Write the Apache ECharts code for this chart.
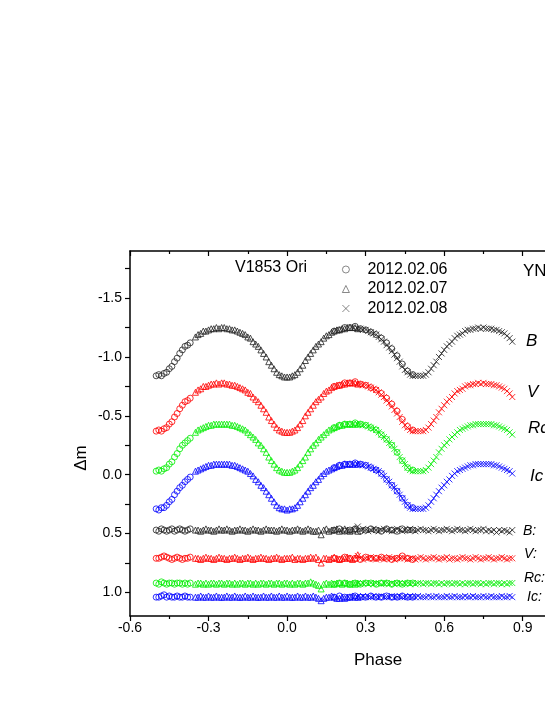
<!DOCTYPE html>
<html>
<head>
<meta charset="utf-8">
<script src="https://cdn.jsdelivr.net/npm/echarts@6/dist/echarts.min.js"></script>
<style>html,body{margin:0;padding:0;background:#fff;overflow:hidden}#c{width:575px;height:705px}</style>
</head>
<body>
<div id="c"></div>
<script>
// ---------- DATA ----------
const nightNames = ['2012.02.06', '2012.02.07', '2012.02.08'];
const bandNames = ['B', 'V', 'Rc', 'Ic'];
const xTicks = [-0.6, -0.3, 0.0, 0.3, 0.6, 0.9];
const yTicks = [-1.5, -1.0, -0.5, 0.0, 0.5, 1.0];
const yMinorTicks = [-1.75, -1.25, -0.75, -0.25, 0.25, 0.75];

const phaseN1 = [-0.50,-0.49,-0.48,-0.47,-0.46,-0.45,-0.44,-0.43,-0.42,-0.41,-0.40,-0.39,-0.38,-0.37,
  0.18,0.20,0.22,0.24,0.26,0.28,0.30,0.32,0.34,0.36,0.38,0.40,0.42,0.44,0.46,0.48];
const phaseN2 = [-0.35,-0.34,-0.33,-0.32,-0.31,-0.30,-0.29,-0.28,-0.27,-0.26,-0.25,-0.24,-0.23,-0.22,-0.21,-0.20,
  -0.19,-0.18,-0.17,-0.16,-0.15,-0.14,-0.13,-0.12,-0.11,-0.10,-0.09,-0.08,-0.07,-0.06,-0.05,-0.04,-0.03,-0.02,-0.01,
  0.00,0.01,0.02,0.03,0.04,0.05,0.06,0.07,0.08,0.09,0.10,0.11,0.12,0.13,0.14,0.15,0.16,0.17,0.18,0.19,0.20,
  0.21,0.22,0.23,0.24,0.25,0.26,0.27];
const phaseN3 = [0.27,0.28,0.29,0.30,0.31,0.32,0.33,0.34,0.35,0.36,0.37,0.38,0.39,0.40,0.41,0.42,0.43,0.44,0.45,0.46,
  0.47,0.48,0.49,0.50,0.51,0.52,0.53,0.54,0.55,0.56,0.57,0.58,0.59,0.60,0.61,0.62,0.63,0.64,0.65,0.66,0.67,0.68,
  0.69,0.70,0.71,0.72,0.73,0.74,0.75,0.76,0.77,0.78,0.79,0.80,0.81,0.82,0.83,0.84,0.85,0.86];

// light curves
const lcB_N1 = [-0.84,-0.85,-0.84,-0.86,-0.87,-0.90,-0.92,-0.96,-0.99,-1.03,-1.06,-1.09,-1.10,-1.12,
  -1.22,-1.23,-1.25,-1.25,-1.26,-1.24,-1.23,-1.21,-1.19,-1.16,-1.12,-1.07,-1.01,-0.94,-0.88,-0.85];
const lcV_N1 = [-0.37,-0.38,-0.37,-0.39,-0.40,-0.43,-0.45,-0.49,-0.52,-0.56,-0.59,-0.62,-0.63,-0.65,
  -0.75,-0.76,-0.78,-0.78,-0.79,-0.77,-0.76,-0.74,-0.72,-0.69,-0.65,-0.60,-0.54,-0.47,-0.41,-0.38];
const lcRc_N1 = [-0.03,-0.04,-0.03,-0.05,-0.06,-0.09,-0.11,-0.15,-0.18,-0.22,-0.25,-0.27,-0.29,-0.31,
  -0.40,-0.42,-0.43,-0.43,-0.44,-0.43,-0.42,-0.40,-0.38,-0.34,-0.30,-0.25,-0.19,-0.12,-0.06,-0.04];
const lcIc_N1 = [0.29,0.30,0.28,0.28,0.26,0.23,0.21,0.17,0.14,0.11,0.09,0.06,0.04,0.02,
  -0.06,-0.08,-0.09,-0.09,-0.10,-0.09,-0.08,-0.06,-0.04,-0.01,0.04,0.09,0.14,0.20,0.26,0.28];

const lcB_N2 = [-1.17,-1.19,-1.20,-1.22,-1.22,-1.23,-1.24,-1.24,-1.25,-1.24,-1.25,
  -1.25,-1.24,-1.24,-1.23,-1.23,-1.22,-1.21,-1.20,-1.19,-1.17,-1.16,-1.13,-1.11,-1.09,-1.06,-1.03,-1.00,-0.96,-0.93,-0.90,-0.87,-0.85,-0.84,-0.83,
  -0.83,
  -0.83,-0.84,-0.85,-0.87,-0.90,-0.93,-0.97,-1.00,-1.03,-1.06,-1.09,-1.11,-1.13,-1.16,-1.18,-1.19,-1.21,-1.22,-1.23,-1.23,-1.24,-1.24,-1.25,-1.25,-1.25,
  -1.25,-1.24];
const lcV_N2 = [-0.70,-0.72,-0.73,-0.75,-0.75,-0.76,-0.77,-0.77,-0.78,-0.77,-0.78,
  -0.78,-0.77,-0.77,-0.76,-0.76,-0.75,-0.74,-0.73,-0.72,-0.70,-0.69,-0.66,-0.64,-0.62,-0.59,-0.56,-0.53,-0.49,-0.46,-0.43,-0.40,-0.38,-0.37,-0.36,
  -0.36,
  -0.36,-0.37,-0.38,-0.40,-0.43,-0.46,-0.50,-0.53,-0.56,-0.59,-0.62,-0.64,-0.66,-0.69,-0.71,-0.72,-0.74,-0.75,-0.76,-0.76,-0.77,-0.77,-0.78,-0.78,-0.78,
  -0.78,-0.77];
const lcRc_N2 = [-0.36,-0.38,-0.39,-0.40,-0.41,-0.42,-0.42,-0.43,-0.43,-0.43,-0.43,
  -0.43,-0.43,-0.43,-0.42,-0.42,-0.41,-0.40,-0.39,-0.38,-0.36,-0.34,-0.32,-0.30,-0.27,-0.25,-0.22,-0.19,-0.15,-0.12,-0.09,-0.06,-0.04,-0.03,-0.02,
  -0.02,
  -0.02,-0.03,-0.04,-0.06,-0.09,-0.12,-0.15,-0.19,-0.22,-0.25,-0.27,-0.30,-0.32,-0.34,-0.36,-0.38,-0.39,-0.40,-0.41,-0.42,-0.42,-0.43,-0.43,-0.43,-0.43,
  -0.43,-0.43];
const lcIc_N2 = [-0.03,-0.04,-0.05,-0.06,-0.07,-0.08,-0.08,-0.09,-0.09,-0.09,-0.09,
  -0.09,-0.09,-0.09,-0.08,-0.08,-0.07,-0.06,-0.05,-0.04,-0.03,-0.01,0.01,0.04,0.06,0.09,0.11,0.14,0.17,0.20,0.23,0.26,0.28,0.29,0.29,
  0.30,
  0.29,0.29,0.28,0.26,0.23,0.20,0.17,0.14,0.11,0.09,0.06,0.04,0.01,-0.01,-0.03,-0.04,-0.05,-0.06,-0.07,-0.08,-0.08,-0.09,-0.09,-0.09,-0.09,
  -0.09,-0.09];

const lcB_N3 = [-1.24,-1.24,-1.23,-1.23,-1.22,-1.21,-1.20,-1.19,-1.17,-1.15,-1.13,-1.10,-1.08,-1.05,-1.02,-0.99,-0.96,-0.92,-0.89,-0.87,-0.85,-0.84,-0.84,
  -0.84,
  -0.84,-0.84,-0.85,-0.87,-0.90,-0.93,-0.96,-1.00,-1.03,-1.06,-1.09,-1.11,-1.13,-1.16,-1.18,-1.19,-1.20,-1.22,-1.23,-1.23,-1.24,-1.24,-1.25,-1.24,-1.25,
  -1.24,-1.24,-1.24,-1.23,-1.23,-1.22,-1.21,-1.20,-1.18,-1.16,-1.13];
const lcV_N3 = [-0.77,-0.77,-0.76,-0.76,-0.75,-0.74,-0.73,-0.72,-0.70,-0.68,-0.66,-0.63,-0.61,-0.58,-0.55,-0.52,-0.49,-0.45,-0.42,-0.40,-0.38,-0.37,-0.37,
  -0.37,
  -0.37,-0.37,-0.38,-0.40,-0.43,-0.46,-0.49,-0.53,-0.56,-0.59,-0.62,-0.64,-0.66,-0.69,-0.71,-0.72,-0.73,-0.75,-0.76,-0.76,-0.77,-0.77,-0.78,-0.77,-0.78,
  -0.77,-0.77,-0.77,-0.76,-0.76,-0.75,-0.74,-0.73,-0.71,-0.69,-0.66];
const lcRc_N3 = [-0.43,-0.43,-0.42,-0.42,-0.41,-0.40,-0.39,-0.38,-0.36,-0.34,-0.32,-0.30,-0.27,-0.25,-0.22,-0.19,-0.15,-0.12,-0.09,-0.06,-0.04,-0.03,-0.03,
  -0.03,
  -0.03,-0.03,-0.04,-0.06,-0.09,-0.12,-0.15,-0.19,-0.22,-0.25,-0.27,-0.30,-0.32,-0.34,-0.36,-0.38,-0.39,-0.40,-0.41,-0.42,-0.42,-0.43,-0.43,-0.43,-0.43,
  -0.43,-0.43,-0.43,-0.42,-0.42,-0.41,-0.40,-0.39,-0.38,-0.36,-0.34];
const lcIc_N3 = [-0.09,-0.09,-0.08,-0.08,-0.07,-0.06,-0.05,-0.04,-0.03,-0.01,0.01,0.04,0.06,0.09,0.11,0.14,0.17,0.20,0.23,0.26,0.28,0.29,0.29,
  0.29,
  0.29,0.29,0.28,0.26,0.23,0.20,0.17,0.14,0.11,0.09,0.06,0.04,0.01,-0.01,-0.03,-0.04,-0.05,-0.06,-0.07,-0.08,-0.08,-0.09,-0.09,-0.09,-0.09,
  -0.09,-0.09,-0.09,-0.08,-0.08,-0.07,-0.06,-0.05,-0.04,-0.03,-0.01];

// comparison - check residuals
const resB_N1 = [0.47,0.48,0.46,0.47,0.48,0.47,0.46,0.48,0.47,0.46,0.47,0.48,0.47,0.46,
  0.47,0.46,0.48,0.47,0.46,0.48,0.47,0.46,0.47,0.48,0.46,0.47,0.48,0.46,0.47,0.47];
const resV_N1 = [0.71,0.71,0.70,0.69,0.70,0.71,0.72,0.71,0.70,0.71,0.72,0.71,0.71,0.70,
  0.71,0.72,0.70,0.71,0.71,0.72,0.70,0.71,0.71,0.70,0.71,0.72,0.71,0.69,0.71,0.72];
const resRc_N1 = [0.92,0.93,0.91,0.92,0.93,0.92,0.92,0.93,0.92,0.92,0.93,0.92,0.93,0.92,
  0.93,0.92,0.92,0.93,0.92,0.93,0.92,0.92,0.93,0.92,0.92,0.93,0.92,0.93,0.92,0.92];
const resIc_N1 = [1.04,1.04,1.03,1.02,1.04,1.03,1.04,1.04,1.03,1.04,1.04,1.03,1.04,1.04,
  1.04,1.03,1.04,1.04,1.03,1.04,1.04,1.03,1.04,1.04,1.03,1.04,1.04,1.03,1.04,1.04];

const resB_N2 = [0.47,0.47,0.48,0.47,0.46,0.47,0.47,0.48,0.47,0.46,
  0.47,0.47,0.46,0.47,0.48,0.47,0.47,0.46,0.47,0.47,
  0.48,0.47,0.46,0.47,0.47,0.48,0.47,0.46,0.47,0.47,
  0.47,0.48,0.47,0.46,0.47,0.47,0.48,0.47,0.47,0.46,
  0.47,0.48,0.47,0.46,0.47,0.48,0.48,0.47,0.51,0.47,
  0.46,0.48,0.47,0.47,0.46,0.48,0.47,0.46,0.47,0.48,
  0.47,0.46,0.48];
const resV_N2 = [0.71,0.71,0.72,0.71,0.70,0.71,0.71,0.72,0.71,0.70,
  0.71,0.71,0.72,0.71,0.71,0.70,0.71,0.72,0.71,0.71,
  0.70,0.71,0.72,0.71,0.71,0.70,0.71,0.71,0.72,0.71,
  0.71,0.70,0.71,0.72,0.71,0.71,0.71,0.70,0.72,0.71,
  0.71,0.72,0.71,0.71,0.70,0.71,0.70,0.72,0.75,0.71,
  0.71,0.72,0.71,0.70,0.71,0.72,0.71,0.71,0.70,0.71,
  0.72,0.71,0.68];
const resRc_N2 = [0.93,0.92,0.92,0.93,0.92,0.93,0.92,0.92,0.93,0.92,
  0.92,0.93,0.92,0.92,0.93,0.92,0.93,0.92,0.92,0.93,
  0.92,0.92,0.93,0.92,0.93,0.92,0.92,0.93,0.92,0.92,
  0.93,0.92,0.92,0.93,0.92,0.92,0.93,0.92,0.93,0.92,
  0.92,0.93,0.92,0.92,0.91,0.92,0.93,0.94,0.97,0.93,
  0.92,0.93,0.92,0.93,0.92,0.92,0.93,0.92,0.92,0.93,
  0.92,0.93,0.92];
const resIc_N2 = [1.04,1.04,1.03,1.04,1.04,1.03,1.04,1.04,1.03,1.04,
  1.04,1.04,1.03,1.04,1.04,1.03,1.04,1.04,1.04,1.03,
  1.04,1.04,1.03,1.04,1.04,1.04,1.03,1.04,1.04,1.03,
  1.04,1.04,1.03,1.04,1.04,1.03,1.04,1.04,1.04,1.03,
  1.04,1.04,1.03,1.04,1.04,1.03,1.04,1.05,1.07,1.05,
  1.04,1.04,1.03,1.04,1.05,1.05,1.04,1.05,1.04,1.04,
  1.03,1.04,1.04];

const resB_N3 = [0.44,0.47,0.46,0.47,0.48,0.47,0.46,0.47,0.48,0.47,
  0.46,0.47,0.47,0.48,0.47,0.46,0.47,0.48,0.47,0.47,
  0.46,0.47,0.48,0.47,0.46,0.47,0.47,0.48,0.47,0.46,
  0.47,0.48,0.47,0.47,0.46,0.47,0.48,0.47,0.46,0.47,
  0.47,0.48,0.47,0.46,0.47,0.48,0.47,0.47,0.46,0.48,
  0.47,0.48,0.47,0.49,0.47,0.48,0.47,0.48,0.49,0.47];
const resV_N3 = [0.69,0.71,0.72,0.71,0.71,0.70,0.71,0.72,0.71,0.71,
  0.72,0.71,0.70,0.71,0.72,0.71,0.71,0.70,0.71,0.72,
  0.71,0.71,0.72,0.71,0.70,0.71,0.72,0.71,0.71,0.70,
  0.71,0.72,0.71,0.71,0.70,0.72,0.71,0.71,0.72,0.71,
  0.70,0.71,0.71,0.72,0.71,0.70,0.71,0.72,0.71,0.71,
  0.70,0.71,0.72,0.71,0.71,0.70,0.71,0.72,0.71,0.71];
const resRc_N3 = [0.92,0.93,0.92,0.92,0.93,0.92,0.93,0.92,0.92,0.93,
  0.92,0.92,0.93,0.92,0.93,0.92,0.92,0.93,0.92,0.92,
  0.93,0.92,0.93,0.92,0.92,0.93,0.92,0.92,0.93,0.92,
  0.92,0.93,0.92,0.93,0.92,0.92,0.93,0.92,0.92,0.93,
  0.92,0.93,0.92,0.92,0.93,0.92,0.92,0.93,0.92,0.93,
  0.92,0.92,0.93,0.92,0.92,0.93,0.92,0.93,0.92,0.92];
const resIc_N3 = [1.04,1.04,1.03,1.04,1.04,1.04,1.03,1.04,1.04,1.03,
  1.04,1.04,1.04,1.03,1.04,1.04,1.03,1.04,1.04,1.04,
  1.03,1.04,1.04,1.03,1.04,1.04,1.04,1.03,1.04,1.04,
  1.03,1.04,1.04,1.04,1.03,1.04,1.04,1.03,1.04,1.04,
  1.04,1.03,1.04,1.04,1.03,1.04,1.04,1.04,1.03,1.04,
  1.04,1.03,1.04,1.04,1.04,1.03,1.04,1.04,1.03,1.04];

// ---------- CHART ----------
const FONT = '"Liberation Sans", Arial, sans-serif';
const xPath = 'path://M0,0L10,10M10,0L0,10';
const nightSymbols = ['circle', 'triangle', xPath];
const nightPhases = [phaseN1, phaseN2, phaseN3];
const bandColors = { B: '#222222', V: '#ff0000', Rc: '#00ee00', Ic: '#0000ff' };
const bandLC = {
  B: [lcB_N1, lcB_N2, lcB_N3], V: [lcV_N1, lcV_N2, lcV_N3],
  Rc: [lcRc_N1, lcRc_N2, lcRc_N3], Ic: [lcIc_N1, lcIc_N2, lcIc_N3]
};
const bandRes = {
  B: [resB_N1, resB_N2, resB_N3], V: [resV_N1, resV_N2, resV_N3],
  Rc: [resRc_N1, resRc_N2, resRc_N3], Ic: [resIc_N1, resIc_N2, resIc_N3]
};

const series = [];
bandNames.forEach(function (b) {
  nightNames.forEach(function (n, k) {
    const ph = nightPhases[k];
    const data = [];
    ph.forEach(function (p, i) { data.push([p, bandLC[b][k][i]]); });
    ph.forEach(function (p, i) { data.push([p, bandRes[b][k][i]]); });
    series.push({
      type: 'scatter', name: n, data: data,
      symbol: nightSymbols[k], symbolSize: 6,
      itemStyle: { color: 'rgba(0,0,0,0)', borderColor: bandColors[b], borderWidth: 1 },
      emphasis: { disabled: true }, silent: true
    });
  });
});

const legendItem = function (name, icon) {
  return { name: name, icon: icon, itemStyle: { color: 'rgba(0,0,0,0)', borderColor: '#444', borderWidth: 0.8 } };
};

const axisLine = { show: true, onZero: false, lineStyle: { color: '#000', width: 1.5 } };
const option = {
  animation: false,
  backgroundColor: '#fff',
  textStyle: { fontFamily: FONT },
  grid: { left: 130, top: 251, bottom: 89, width: 432, containLabel: false },
  legend: {
    orient: 'vertical', left: 337, top: 255, itemWidth: 7, itemHeight: 7, itemGap: 0.5,
    selectedMode: false,
    textStyle: { fontFamily: FONT, fontSize: 16, color: '#000', lineHeight: 19, padding: [0, 0, 0, 13] },
    data: [legendItem(nightNames[0], 'circle'), legendItem(nightNames[1], 'triangle'), legendItem(nightNames[2], xPath)]
  },
  xAxis: [{
    type: 'value', position: 'bottom', min: -0.6, max: 1.05, interval: 0.3,
    axisLine: axisLine,
    axisTick: { show: true, length: 5, inside: false, lineStyle: { color: '#000', width: 1.2 } },
    minorTick: { show: true, splitNumber: 2, length: 3, lineStyle: { color: '#000', width: 1.2 } },
    axisLabel: {
      margin: 5, fontSize: 14, color: '#000', fontFamily: FONT,
      formatter: function (v) { return xTicks.some(function (t) { return Math.abs(t - v) < 1e-6; }) ? v.toFixed(1) : ''; }
    },
    splitLine: { show: false }
  }, {
    type: 'value', position: 'top', min: -0.6, max: 1.05, interval: 0.3,
    axisLine: axisLine,
    axisTick: { show: true, length: 5, inside: true, lineStyle: { color: '#000', width: 1.2 } },
    minorTick: { show: true, splitNumber: 2, length: 3, lineStyle: { color: '#000', width: 1.2 } },
    axisLabel: { show: false }, splitLine: { show: false }
  }],
  yAxis: [{
    type: 'value', position: 'left', inverse: true, min: -1.9, max: 1.2,
    axisLine: axisLine,
    axisTick: { show: true, length: 5, customValues: yTicks.concat(yMinorTicks), lineStyle: { color: '#000', width: 1.2 } },
    axisLabel: {
      margin: 8, fontSize: 14, color: '#000', fontFamily: FONT, customValues: yTicks,
      formatter: function (v) { return v.toFixed(1); }
    },
    splitLine: { show: false }
  }],
  graphic: [
    { type: 'text', left: 235, top: 260, style: { text: 'V1853 Ori', font: '16px ' + FONT, fill: '#000' } },
    { type: 'text', left: 523, top: 263, style: { text: 'YNAO', font: '17px ' + FONT, fill: '#000' } },
    { type: 'text', x: 526, y: 341, style: { text: 'B', font: 'italic 17px ' + FONT, fill: '#000', verticalAlign: 'middle' } },
    { type: 'text', x: 527, y: 392, style: { text: 'V', font: 'italic 17px ' + FONT, fill: '#000', verticalAlign: 'middle' } },
    { type: 'text', x: 528, y: 428, style: { text: 'Rc', font: 'italic 17px ' + FONT, fill: '#000', verticalAlign: 'middle' } },
    { type: 'text', x: 530, y: 476, style: { text: 'Ic', font: 'italic 17px ' + FONT, fill: '#000', verticalAlign: 'middle' } },
    { type: 'text', x: 523, y: 531, style: { text: 'B:', font: 'italic 14px ' + FONT, fill: '#000', verticalAlign: 'middle' } },
    { type: 'text', x: 524, y: 554, style: { text: 'V:', font: 'italic 14px ' + FONT, fill: '#000', verticalAlign: 'middle' } },
    { type: 'text', x: 524, y: 578, style: { text: 'Rc:', font: 'italic 14px ' + FONT, fill: '#000', verticalAlign: 'middle' } },
    { type: 'text', x: 527, y: 597, style: { text: 'Ic:', font: 'italic 14px ' + FONT, fill: '#000', verticalAlign: 'middle' } },
    { type: 'text', x: 378, y: 660, style: { text: 'Phase', font: '17px ' + FONT, fill: '#000', align: 'center', verticalAlign: 'middle' } },
    { type: 'text', x: 81, y: 458, rotation: Math.PI / 2, style: { text: 'Δm', font: '17px ' + FONT, fill: '#000', align: 'center', verticalAlign: 'middle' } }
  ],
  series: series
};

const chart = echarts.init(document.getElementById('c'), null, { renderer: 'canvas' });
chart.setOption(option);
</script>
</body>
</html>
